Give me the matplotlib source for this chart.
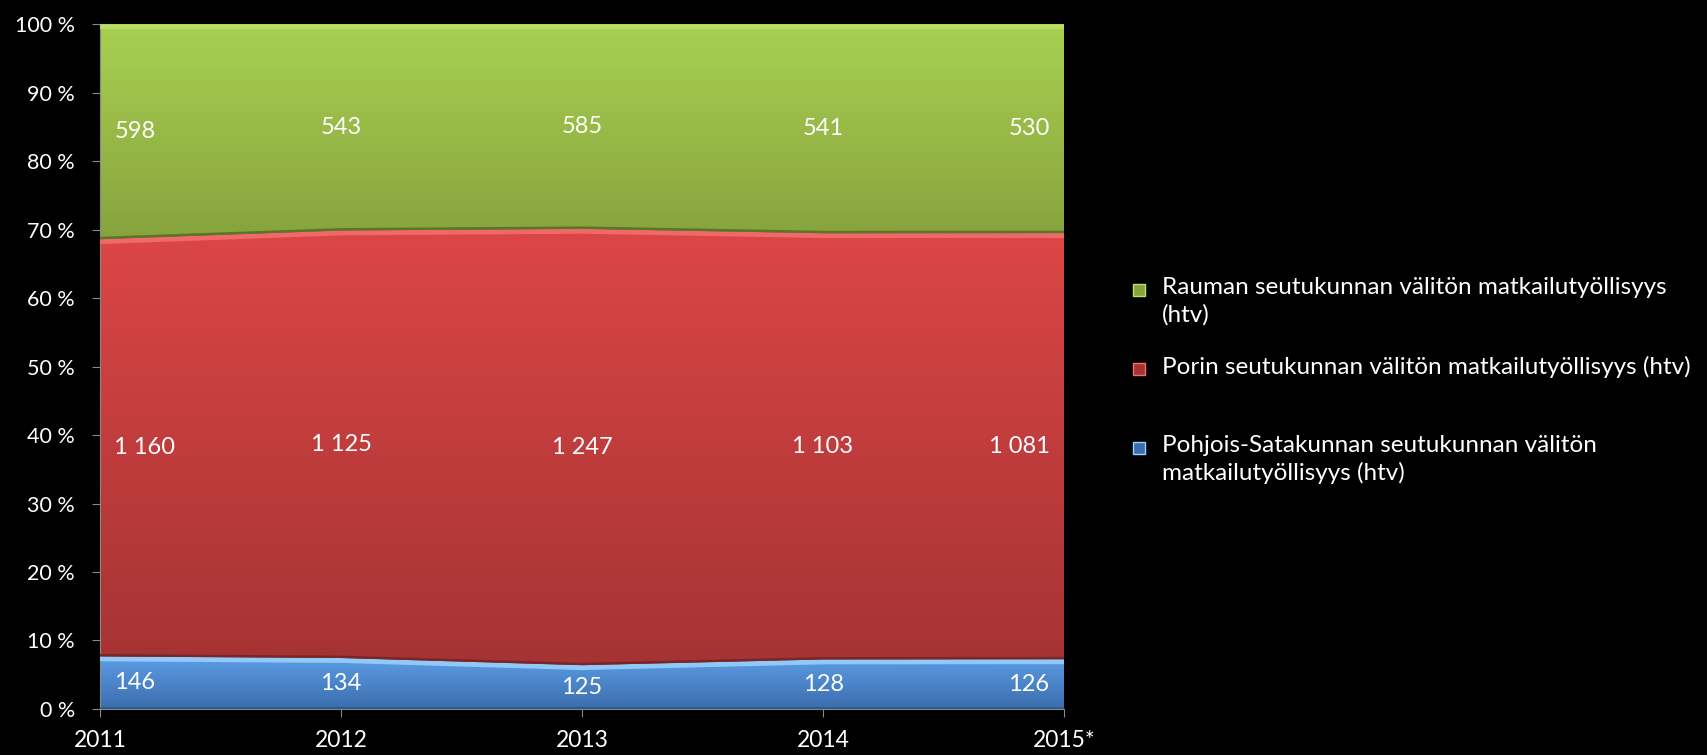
import numpy as np
import matplotlib.pyplot as plt
from matplotlib.patches import Rectangle
from matplotlib.colors import LinearSegmentedColormap

years = ["2011", "2012", "2013", "2014", "2015*"]
pohjois = [146, 134, 125, 128, 126]
pori = [1160, 1125, 1247, 1103, 1081]
rauma = [598, 543, 585, 541, 530]

series_names = [
    "Pohjois-Satakunnan seutukunnan välitön\nmatkailutyöllisyys (htv)",
    "Porin seutukunnan välitön matkailutyöllisyys (htv)",
    "Rauman seutukunnan välitön matkailutyöllisyys\n(htv)",
]
# top / bottom colours of the gradient for each band
band_colors = [("#5d9ee6", "#3b6dad"), ("#dd4646", "#a53333"), ("#a9d152", "#86a33d")]
light_colors = ["#9bd2ff", "#f47070", "#bde26a"]
edge_colors = ["#2d5a8f", "#7a2626", "#5a7428"]

plt.rcParams["font.family"] = ["Lato", "DejaVu Sans"]

W, H = 1708, 755
fig = plt.figure(figsize=(W / 100, H / 100), dpi=100, facecolor="black")
ax = fig.add_axes([0.0585, 0.061, 0.5645, 0.907])
ax.set_facecolor("black")

data = np.array([pohjois, pori, rauma], dtype=float)
pct = data / data.sum(axis=0) * 100
x = np.arange(len(years))
bottoms = np.vstack([np.zeros(len(years)), np.cumsum(pct, axis=0)[:-1]])
tops = bottoms + pct

for i in range(3):
    poly = ax.fill_between(x, bottoms[i], tops[i], facecolor="none",
                           edgecolor="none", zorder=3)
    clip = poly.get_paths()[0]
    c_top, c_bot = band_colors[i]
    grad = np.linspace(0, 1, 256).reshape(-1, 1)
    cmap = LinearSegmentedColormap.from_list(f"g{i}", [c_bot, c_top])
    lo, hi = bottoms[i].min(), tops[i].max()
    im = ax.imshow(grad, cmap=cmap, aspect="auto", origin="lower",
                   extent=[x[0], x[-1], lo, hi], zorder=2)
    im.set_clip_path(clip, transform=ax.transData)

    # bevel: light strip under the top edge, dark strip over the bottom edge
    hl, = ax.plot(x, tops[i], color=light_colors[i], lw=7, alpha=0.85,
                  solid_capstyle="butt", zorder=3)
    hl.set_clip_path(clip, transform=ax.transData)
    dk, = ax.plot(x, bottoms[i], color=edge_colors[i], lw=3.5,
                  solid_capstyle="butt", zorder=3)
    dk.set_clip_path(clip, transform=ax.transData)

    for j in range(len(years)):
        ha = "center"
        xo = x[j]
        if j == 0:
            ha, xo = "left", x[j] + 0.06
        elif j == len(years) - 1:
            ha, xo = "right", x[j] - 0.06
        label = f"{int(data[i, j]):,}".replace(",", " ")
        ax.text(xo, (bottoms[i, j] + tops[i, j]) / 2, label, ha=ha, va="center",
                color="white", fontsize=17, zorder=5)

ax.set_xlim(x[0], x[-1])
ax.set_ylim(0, 100)
ax.set_xticks(x)
ax.set_xticklabels(years)
ax.set_yticks(np.arange(0, 101, 10))
ax.set_yticklabels([f"{v} %" for v in range(0, 101, 10)])
ax.tick_params(colors="white", labelsize=16.5, length=6, color="#888888")
ax.tick_params(axis="y", labelsize=15.5, pad=12)
ax.tick_params(axis="x", pad=9)
for s in ["top", "right"]:
    ax.spines[s].set_visible(False)
for s in ["left", "bottom"]:
    ax.spines[s].set_color("#888888")

# legend drawn by hand so the markers sit on the first text line (like Excel)
legend_y = [290, 369, 448]   # pixel rows of first line, top to bottom
for k, i in enumerate([2, 1, 0]):
    yf = 1 - legend_y[k] / H
    fig.patches.append(Rectangle((1133 / W, yf - 6 / H), 12 / W, 12 / H,
                                 transform=fig.transFigure,
                                 facecolor=band_colors[i][1],
                                 edgecolor=light_colors[i], lw=1))
    fig.text(1162 / W, yf + 13 / H, series_names[i], color="white", fontsize=17.5,
             ha="left", va="top", linespacing=1.32)

fig.savefig("out.png", dpi=100, facecolor="black")
